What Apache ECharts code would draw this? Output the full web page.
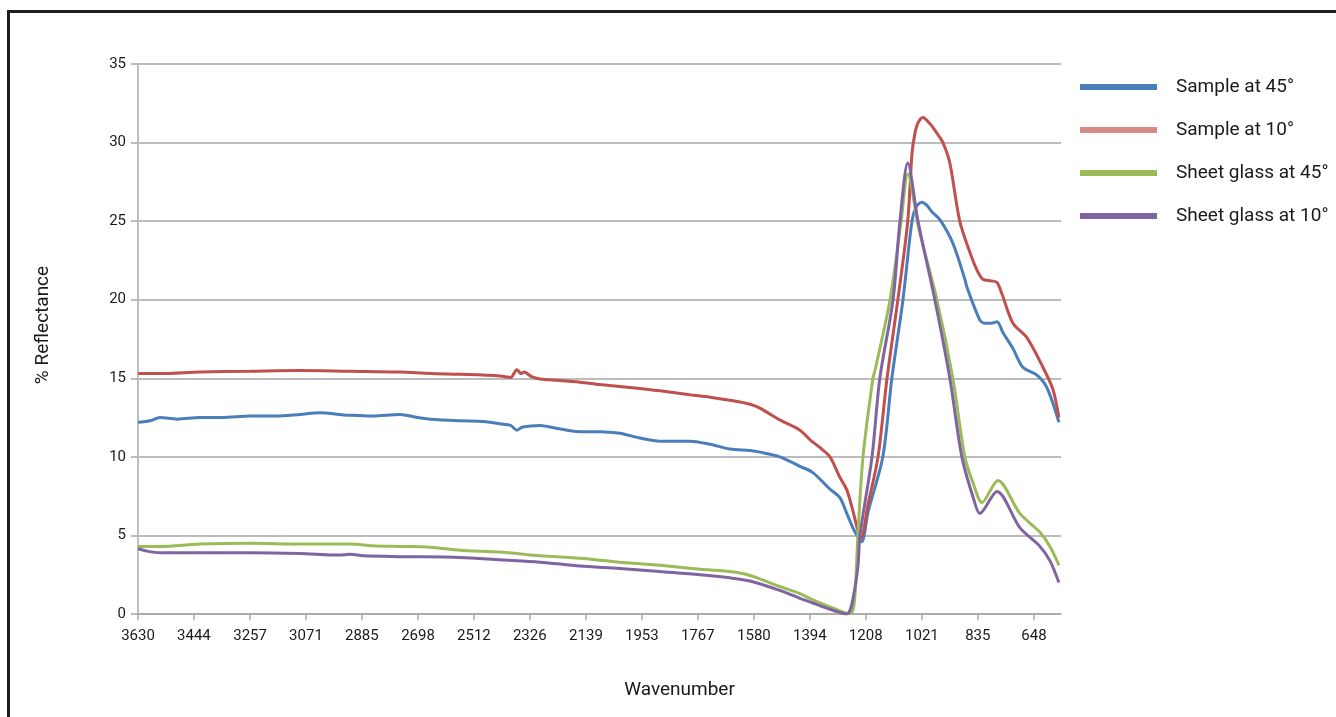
<!DOCTYPE html>
<html>
<head>
<meta charset="utf-8">
<script src="https://cdn.jsdelivr.net/npm/echarts@6/dist/echarts.min.js"></script>
<style>
html,body{margin:0;padding:0;background:#fff;}
#chart{width:1336px;height:717px;}
</style>
</head>
<body>
<div id="chart"></div>
<script>
const FONT = "Roboto,'Liberation Sans',sans-serif";

const xTickLabels = [3630, 3444, 3257, 3071, 2885, 2698, 2512, 2326, 2139, 1953, 1767, 1580, 1394, 1208, 1021, 835, 648];
const seriesNames = ['Sample at 45°', 'Sample at 10°', 'Sheet glass at 45°', 'Sheet glass at 10°'];

const sample45Wn = [3630,3590,3557,3500,3424,3350,3257,3170,3091,3024,2960,2925,2850,2758,2700,2658,2558,2480,2425,2390,2369,2350,2292,2259,2159,2093,2026,1960,1893,1793,1726,1660,1593,1560,1494,1427,1384,1327,1294,1271,1251,1234,1221,1200,1151,1121,1084,1054,1040,1021,1004,988,961,918,878,871,828,811,790,771,751,718,685,638,605,565];
const sample45 = [12.2,12.3,12.5,12.4,12.5,12.5,12.6,12.6,12.7,12.8,12.7,12.65,12.6,12.7,12.5,12.4,12.3,12.25,12.1,12.0,11.7,11.9,12.0,11.9,11.6,11.6,11.5,11.2,11.0,11.0,10.8,10.5,10.4,10.3,10.0,9.4,9.0,7.95,7.4,6.4,5.5,4.9,4.6,6.5,10.0,15.0,20.0,25.0,25.9,26.2,26.0,25.6,25.1,23.6,21.3,20.8,18.7,18.5,18.5,18.6,17.9,16.9,15.7,15.2,14.4,12.2];

const sample10Wn = [3630,3557,3424,3257,3091,2925,2758,2658,2558,2425,2390,2369,2355,2345,2320,2292,2259,2159,2093,1960,1893,1793,1726,1660,1593,1560,1494,1427,1394,1361,1327,1294,1271,1251,1234,1224,1200,1167,1137,1101,1068,1054,1044,1034,1018,994,971,951,928,895,861,838,818,790,771,755,718,672,618,585,565];
const sample10 = [15.3,15.3,15.4,15.45,15.5,15.45,15.4,15.3,15.25,15.15,15.05,15.55,15.3,15.4,15.1,14.95,14.9,14.75,14.6,14.35,14.2,13.95,13.8,13.6,13.35,13.1,12.35,11.7,11.1,10.6,10.0,8.7,7.9,6.6,5.3,4.8,7.0,10.0,15.0,20.0,25.0,29.3,30.6,31.25,31.6,31.2,30.6,30.0,28.7,25.0,23.0,21.9,21.3,21.2,21.1,20.4,18.5,17.6,15.7,14.3,12.5];

const glass45Wn = [3630,3557,3424,3257,3091,2925,2850,2758,2658,2558,2425,2292,2159,2026,1893,1760,1660,1593,1494,1427,1384,1327,1294,1271,1254,1244,1234,1217,1184,1177,1127,1090,1068,1031,971,918,878,850,821,768,695,628,595,565];
const glass45 = [4.3,4.3,4.45,4.5,4.45,4.45,4.35,4.3,4.25,4.05,3.95,3.7,3.55,3.3,3.1,2.85,2.7,2.45,1.75,1.3,0.9,0.45,0.2,0.05,0.1,1.1,5.0,10.0,15.0,15.5,20.0,25.0,28.0,24.5,20.0,15.0,10.0,8.3,7.1,8.5,6.4,5.2,4.3,3.1];

const glass10Wn = [3630,3600,3557,3424,3257,3091,2960,2925,2880,2758,2558,2425,2292,2159,2026,1893,1760,1660,1593,1494,1427,1384,1327,1294,1271,1261,1251,1234,1227,1187,1161,1117,1094,1068,1034,978,928,888,850,828,771,695,628,595,565];
const glass10 = [4.15,4.0,3.9,3.9,3.9,3.85,3.75,3.8,3.7,3.65,3.6,3.45,3.3,3.05,2.9,2.7,2.5,2.3,2.1,1.5,1.0,0.7,0.3,0.1,0.0,0.2,0.9,3.0,5.0,10.0,15.0,20.0,25.0,28.7,25.0,20.0,15.0,10.0,7.4,6.4,7.8,5.5,4.3,3.4,2.0];

const lineColors = ['#4a7ebb', '#c0504d', '#9bbb59', '#8064a2'];
const legendColors = ['#4a7ebb', '#d78a87', '#9bbb59', '#8064a2'];

function pairs(xs, ys) { return xs.map((x, i) => [x, ys[i]]); }
const seriesData = [pairs(sample45Wn, sample45), pairs(sample10Wn, sample10), pairs(glass45Wn, glass45), pairs(glass10Wn, glass10)];

const txt = (size) => ({fontFamily: FONT, fontSize: size, color: '#1a1a1a'});

const chart = echarts.init(document.getElementById('chart'), null, {renderer: 'canvas'});
chart.setOption({
  backgroundColor: '#fff',
  animation: false,
  textStyle: {fontFamily: FONT},
  graphic: [{
    type: 'rect', silent: true,
    shape: {x: 8.5, y: 11.5, width: 1500, height: 900},
    style: {fill: 'none', stroke: '#1e1e1e', lineWidth: 3}
  }],
  grid: {left: 138, top: 64, right: 275, bottom: 103, containLabel: false},
  legend: {
    orient: 'vertical', left: 1080, top: 75, padding: 0,
    icon: 'rect', itemWidth: 77, itemHeight: 6, itemGap: 19,
    textStyle: Object.assign(txt(19), {padding: [0, 0, 0, 14], lineHeight: 24}),
    data: seriesNames.map((n, i) => ({name: n, itemStyle: {color: legendColors[i]}}))
  },
  xAxis: {
    type: 'value', inverse: true, min: 558, max: 3630,
    name: 'Wavenumber', nameLocation: 'middle', nameGap: 67,
    nameTextStyle: Object.assign(txt(19), {padding: [0, 0, 0, 160]}),
    axisLine: {show: true, lineStyle: {color: '#a6a6a6', width: 1.5}},
    axisTick: {show: true, customValues: xTickLabels, length: 6, lineStyle: {color: '#a6a6a6', width: 1.5}},
    axisLabel: Object.assign(txt(15), {customValues: xTickLabels, margin: 15, formatter: v => String(v)}),
    splitLine: {show: false}
  },
  yAxis: {
    type: 'value', min: 0, max: 35, interval: 5,
    name: '% Reflectance', nameLocation: 'middle', nameGap: 85, nameRotate: 90,
    nameTextStyle: Object.assign(txt(19), {padding: [0, 0, 0, 28]}),
    axisLine: {show: true, lineStyle: {color: '#c0c0c0', width: 2}},
    axisTick: {show: true, length: 7, lineStyle: {color: '#a6a6a6', width: 1.5}},
    axisLabel: Object.assign(txt(15), {margin: 12}),
    splitLine: {show: true, lineStyle: {color: '#a6a6a6', width: 1.5}}
  },
  series: seriesNames.map((n, i) => ({
    name: n, type: 'line', data: seriesData[i], smooth: 0.3,
    showSymbol: false, symbol: 'none',
    lineStyle: {color: lineColors[i], width: 3},
    itemStyle: {color: lineColors[i]},
    z: 2 + i
  }))
});
</script>
</body>
</html>
